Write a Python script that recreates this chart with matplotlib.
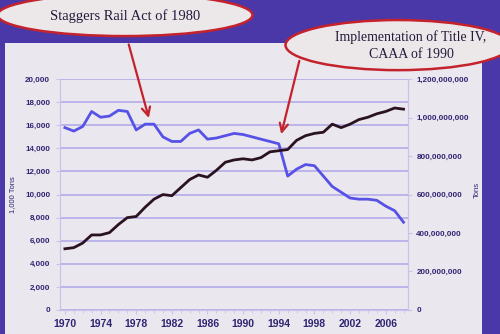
import matplotlib
matplotlib.use('Agg')
import matplotlib.pyplot as plt
from matplotlib.patches import Ellipse, Rectangle
from matplotlib.ticker import FuncFormatter, MultipleLocator

years = list(range(1970, 2009))

# SO2 emissions, 1,000 tons (left axis)
so2_kt = [15800, 15500, 15900, 17200, 16700, 16800, 17300, 17200, 15600, 16100,
          16100, 15000, 14600, 14600, 15300, 15600, 14800, 14900, 15100, 15300,
          15200, 15000, 14800, 14600, 14400, 11600, 12200, 12600, 12500, 11600,
          10700, 10200, 9700, 9600, 9600, 9500, 9000, 8600, 7600]

# coal shipped by rail, million tons (right axis)
coal_mt = [318, 324, 348, 390, 390, 402, 444, 480, 486, 534,
           576, 600, 594, 636, 678, 702, 690, 726, 768, 780,
           786, 780, 792, 822, 828, 834, 882, 906, 918, 924,
           966, 948, 966, 990, 1002, 1020, 1032, 1050, 1044]

left_ticks = list(range(0, 20001, 2000))
right_ticks = [v * 1e6 for v in range(0, 1201, 200)]
x_ticks = list(range(1970, 2007, 4))

purple = '#4b38a8'
panel = '#ebe7ef'
label_col = '#2f2472'
grid_col = '#b3acea'
red = '#c4222c'

fig = plt.figure(figsize=(5, 3.34), dpi=100, facecolor=purple)

# slide panel
fig.patches.append(Rectangle((0.01, 0.0), 0.954, 0.872, transform=fig.transFigure,
                             facecolor=panel, edgecolor='none', zorder=-1))

ax1 = fig.add_axes([0.12, 0.072, 0.696, 0.691], zorder=1)
ax1.set_facecolor('none')
ax1.plot(years, so2_kt, color='#5752e6', lw=2, zorder=3)
ax1.set_xlim(1969.45, 2008.5)
ax1.set_ylim(0, 20000)
ax1.set_yticks(left_ticks)
ax1.yaxis.set_major_formatter(FuncFormatter(lambda v, p: f'{int(v):,}'))
ax1.set_xticks(x_ticks)
ax1.xaxis.set_minor_locator(MultipleLocator(1))
ax1.grid(axis='y', color=grid_col, lw=1.2)
ax1.set_axisbelow(True)

ax2 = ax1.twinx()
ax2.set_zorder(2)
ax2.set_facecolor('none')
ax2.plot(years, [v * 1e6 for v in coal_mt], color='#2a1220', lw=2, zorder=3)
ax2.set_ylim(0, 1.2e9)
ax2.set_yticks(right_ticks)
ax2.yaxis.set_major_formatter(FuncFormatter(lambda v, p: f'{int(v):,}'))

for ax in (ax1, ax2):
    for s in ax.spines.values():
        s.set_color('#c9c2ec')
    ax.spines['top'].set_visible(False)
    ax.tick_params(colors='#c9c2ec', labelcolor=label_col, length=3, width=0.8)
    ax.tick_params(axis='x', which='minor', length=2, color='#c9c2ec')
    for lab in ax.get_yticklabels():
        lab.set_fontfamily('Liberation Sans')
        lab.set_fontsize(5.8)
        lab.set_fontweight('bold')
ax1.tick_params(axis='y', pad=4)
ax2.tick_params(axis='y', pad=3)
for lab in ax1.get_xticklabels():
    lab.set_fontfamily('Liberation Sans')
    lab.set_fontsize(7.5)
    lab.set_fontweight('bold')

ax1.set_ylabel('1,000 Tons', fontsize=5.5, color=label_col, family='Liberation Sans')
ax1.yaxis.set_label_coords(-0.125, 0.5)
ax2.set_ylabel('Tons', fontsize=5.5, color=label_col, family='Liberation Sans')
ax2.yaxis.set_label_coords(1.19, 0.52)

# callout ellipses
fig.patches.append(Ellipse((0.25, 0.955), 0.51, 0.126, transform=fig.transFigure,
                           facecolor='#ece8ea', edgecolor=red, lw=1.8, zorder=5))
fig.patches.append(Ellipse((0.796, 0.865), 0.45, 0.15, transform=fig.transFigure,
                           facecolor='#ece8ea', edgecolor=red, lw=1.8, zorder=5))
fig.text(0.25, 0.953, 'Staggers Rail Act of 1980', ha='center', va='center',
         fontsize=10.5, family='Liberation Serif', color='#241a3a', zorder=6)
fig.text(0.822, 0.864, 'Implementation of Title IV,\nCAAA of 1990', ha='center', va='center',
         fontsize=10, family='Liberation Serif', color='#241a3a', linespacing=1.4, zorder=6)

ax1.annotate('', xy=(1979.5, 16400), xycoords='data',
             xytext=(0.256, 0.875), textcoords='figure fraction',
             arrowprops=dict(arrowstyle='->,head_length=0.6,head_width=0.3',
                             color=red, lw=1.6), zorder=6)
ax1.annotate('', xy=(1994.2, 15000), xycoords='data',
             xytext=(0.60, 0.826), textcoords='figure fraction',
             arrowprops=dict(arrowstyle='->,head_length=0.6,head_width=0.3',
                             color=red, lw=1.6), zorder=6)

fig.savefig('out.png', dpi=100, facecolor=purple)
